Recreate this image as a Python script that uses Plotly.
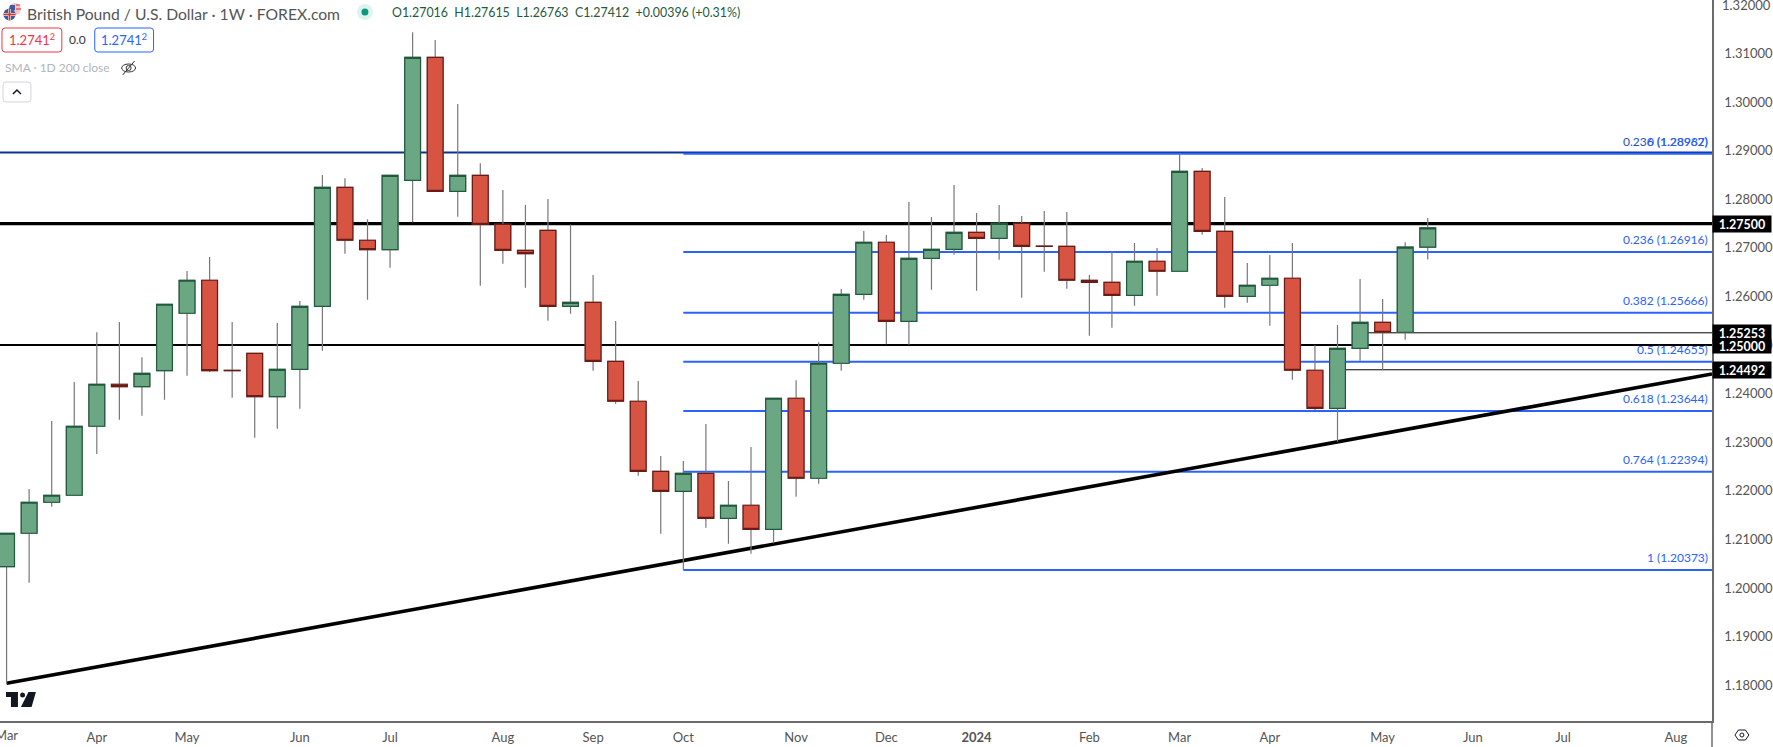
import pandas as pd
import plotly.graph_objects as go

dates = pd.date_range("2023-03-06", periods=64, freq="7D")
opens = [1.20441,1.21128,1.21766,1.2191,1.2333,1.24194,1.24144,1.24474,1.25655,1.26334,1.24482,1.24831,1.23939,1.24502,1.25798,1.28247,
         1.27157,1.26963,1.28391,1.30922,1.28165,1.28494,1.27486,1.26951,1.27362,1.25798,1.25881,1.24667,1.23844,1.22403,1.21992,1.22362,
         1.21436,1.21704,1.2121,1.23906,1.2226,1.24626,1.26045,1.27116,1.2549,1.26786,1.26971,1.27321,1.27198,1.27506,1.27038,1.27033,
         1.26334,1.26292,1.26025,1.26725,1.26519,1.28576,1.27342,1.26004,1.26231,1.26375,1.24482,1.23696,1.24934,1.25469,1.25264,1.27016]
highs = [1.21134,1.22039,1.23439,1.24241,1.25264,1.25475,1.24749,1.2584,1.26525,1.26813,1.25475,1.24831,1.25455,1.25908,1.285,1.28432,
         1.27589,1.28494,1.31436,1.31278,1.29961,1.28741,1.28192,1.27883,1.28006,1.27481,1.26443,1.25496,1.24261,1.22718,1.22615,1.23377,
         1.22204,1.22904,1.23906,1.24276,1.25058,1.26155,1.27348,1.27266,1.27945,1.27636,1.28294,1.27718,1.27883,1.27657,1.27759,1.27739,
         1.26443,1.2693,1.27101,1.26998,1.28947,1.28644,1.28047,1.2669,1.26854,1.27101,1.24996,1.25414,1.2636,1.25949,1.27116,1.27615]
lows = [1.18027,1.20111,1.21675,1.2191,1.22759,1.23465,1.23548,1.23877,1.24371,1.24447,1.23918,1.23095,1.2328,1.23692,1.24885,1.26881,
        1.25934,1.26593,1.27527,1.28165,1.27642,1.26222,1.26675,1.26181,1.25502,1.25646,1.24474,1.23795,1.22313,1.2112,1.20379,1.21243,
        1.20914,1.20708,1.20922,1.21881,1.22148,1.24474,1.25934,1.25017,1.25008,1.2614,1.2686,1.2612,1.26757,1.25976,1.26511,1.2616,
        1.25194,1.25358,1.25811,1.26017,1.26519,1.27272,1.2577,1.25873,1.25399,1.24288,1.23665,1.23013,1.24679,1.24492,1.25111,1.26763]
closes = [1.21128,1.21766,1.2191,1.2333,1.24194,1.24144,1.2442,1.2584,1.26334,1.24474,1.24474,1.23939,1.24502,1.25798,1.28247,1.27157,
          1.26963,1.28494,1.30922,1.28165,1.28494,1.27486,1.26951,1.26881,1.25798,1.25881,1.24667,1.23844,1.22403,1.21992,1.22362,1.21436,
          1.21704,1.2121,1.23906,1.2226,1.24626,1.26045,1.27116,1.2549,1.26786,1.26971,1.27321,1.27198,1.27506,1.27033,1.27033,1.26334,
          1.26292,1.26025,1.26725,1.26519,1.28576,1.27342,1.26004,1.26231,1.26375,1.24482,1.23696,1.24934,1.25469,1.25264,1.27016,1.27412]

fib_ratios = ["0.236", "0.382", "0.5", "0.618", "0.764", "1"]
fib_levels = [1.26916, 1.25666, 1.24655, 1.23644, 1.22394, 1.20373]
fib_zero = 1.28937
old_fib = 1.28962
major_levels = [1.275, 1.25]
minor_levels = [1.25253, 1.24492]
trend_prices = [1.18041, 1.24406]
x_start = "2023-03-03 23:00"
x_end = "2024-08-16 05:00"
y_ticks = [1.18,1.19,1.20,1.21,1.22,1.23,1.24,1.25,1.26,1.27,1.28,1.29,1.30,1.31]
y_top_tick = 1.32
x_first_tick = ("2023-03-06", "Mar")
x_tick_dates = ["2023-04-03","2023-05-01","2023-06-05","2023-07-03","2023-08-07","2023-09-04","2023-10-02",
                "2023-11-06","2023-12-04","2024-01-01","2024-02-05","2024-03-04","2024-04-01","2024-05-06","2024-06-03","2024-07-01","2024-08-05"]
x_tick_text = ["Apr","May","Jun","Jul","Aug","Sep","Oct","Nov","Dec","<b>2024</b>","Feb","Mar","Apr","May","Jun","Jul","Aug"]

W, H, PW, PH = 1773, 747, 1717, 721
FONT = "Lato"
GREEN, RED, GREEN_D, RED_D = "#6ca784", "#d85442", "#1f5a3c", "#6b1a14"
BLUE = "#2962ff"
def px(x): return x / PW
def py(y): return 1 - y / PH

fig = go.Figure()
fig.add_trace(go.Candlestick(x=dates, open=opens, high=highs, low=lows, close=closes, whiskerwidth=0,
    increasing=dict(line=dict(color="#787878", width=1.2), fillcolor=GREEN),
    decreasing=dict(line=dict(color="#787878", width=1.2), fillcolor=RED), showlegend=False, hoverinfo="skip"))
body_hi = [max(a, b) for a, b in zip(opens, closes)]
body_lo = [min(a, b) for a, b in zip(opens, closes)]
fig.add_trace(go.Candlestick(x=dates, open=opens, high=body_hi, low=body_lo, close=closes, whiskerwidth=0,
    increasing=dict(line=dict(color=GREEN_D, width=1.2), fillcolor=GREEN),
    decreasing=dict(line=dict(color=RED_D, width=1.2), fillcolor=RED), showlegend=False, hoverinfo="skip"))

shapes, ann = [], []
def hline(level, x0, x1, color, width):
    shapes.append(dict(type="line", xref="x", yref="y", x0=x0, x1=x1, y0=level, y1=level,
                       line=dict(color=color, width=width), layer="below"))
hline(old_fib, x_start, x_end, "#0c3299", 2)
hline(major_levels[0], x_start, x_end, "#000000", 3.2)
hline(major_levels[1], x_start, x_end, "#000000", 2)
hline(minor_levels[0], dates[60], x_end, "#000000", 1)
hline(minor_levels[1], dates[59], x_end, "#000000", 1)
for lv in [fib_zero] + fib_levels:
    hline(lv, dates[30], x_end, BLUE, 2)
shapes.append(dict(type="line", xref="x", yref="y", x0=dates[0], x1=x_end, y0=trend_prices[0], y1=trend_prices[1],
                   line=dict(color="#000000", width=3.6), layer="below"))

def txt(x, y, t, size=13, color="#555", anchor="left", **kw):
    ann.append(dict(xref="paper", yref="paper", x=px(x), y=py(y), text=t, showarrow=False, xanchor=anchor, yanchor="middle",
                    font=dict(family=FONT, size=size, color=color), **kw))

for r, v in zip(fib_ratios, fib_levels):
    ann.append(dict(xref="paper", yref="y", x=px(1715), y=v, yshift=12.5, text=f"{r} ({v:.5f})", showarrow=False, xanchor="right",
                    yanchor="middle", font=dict(family=FONT, size=12, color=BLUE)))
ann.append(dict(xref="paper", yref="y", x=px(1715), y=old_fib, yshift=11, text=f"0.236 ({old_fib:.5f})", showarrow=False, xanchor="right",
                yanchor="middle", font=dict(family=FONT, size=12, color="#2450c8")))
ann.append(dict(xref="paper", yref="y", x=px(1715), y=old_fib, yshift=11, text=f"0 ({fib_zero:.5f})", showarrow=False, xanchor="right",
                yanchor="middle", font=dict(family=FONT, size=12, color=BLUE)))
for v, h in [(minor_levels[0], 14), (major_levels[0], 14), (major_levels[1], 11), (minor_levels[1], 14)]:
    ann.append(dict(xref="paper", yref="y", x=1.0, y=v, yshift=-1 if h == 11 else 0, text=f"<b>{v:.5f}</b>", showarrow=False, xanchor="left", yanchor="middle",
                    width=56, height=h, bgcolor="#000000", align="center", valign="middle", font=dict(family=FONT, size=12.5, color="#ffffff")))
ann.append(dict(xref="paper", yref="y", x=1.0, xshift=8, y=y_top_tick, text=f"{y_top_tick:.5f}", showarrow=False, xanchor="left",
                yanchor="middle", font=dict(family=FONT, size=13, color="#555")))
ann.append(dict(xref="x", yref="paper", x=x_first_tick[0], y=py(735), text=x_first_tick[1], showarrow=False, xanchor="center",
                yanchor="middle", font=dict(family=FONT, size=13, color="#555")))

txt(25, 14, "British Pound / U.S. Dollar · 1W · FOREX.com", 15.7, "#555")
txt(391, 13, "O1.27016  H1.27615  L1.26763  C1.27412  +0.00396 (+0.31%)", 12.4, "#1f5a3c")
txt(32, 40, "1.2741<sup>2</sup>", 13, "#f23645", "center")
txt(78, 40, "0.0", 12, "#333", "center")
txt(124, 40, "1.2741<sup>2</sup>", 13, "#2962ff", "center")
txt(3, 68, "SMA · 1D 200 close", 12, "#b2b5be")

def rrect(x0, y0, x1, y1, r, color, w=1):
    X0, X1, Y0, Y1 = px(x0), px(x1), py(y0), py(y1)
    rx, ry = r / PW, r / PH
    path = (f"M{X0+rx},{Y0} L{X1-rx},{Y0} Q{X1},{Y0} {X1},{Y0-ry} L{X1},{Y1+ry} Q{X1},{Y1} {X1-rx},{Y1} "
            f"L{X0+rx},{Y1} Q{X0},{Y1} {X0},{Y1+ry} L{X0},{Y0-ry} Q{X0},{Y0} {X0+rx},{Y0} Z")
    shapes.append(dict(type="path", xref="paper", yref="paper", path=path, line=dict(color=color, width=w)))
def poly(pts, fill=None, color=None, w=1, close=True):
    p = "M" + " L".join(f"{px(a)},{py(b)}" for a, b in pts) + (" Z" if close else "")
    shapes.append(dict(type="path", xref="paper", yref="paper", path=p, fillcolor=fill,
                       line=dict(color=color or "rgba(0,0,0,0)", width=w)))
def circ(cx, cy, rx, ry=None, fill=None, color=None, w=1):
    ry = ry or rx
    shapes.append(dict(type="circle", xref="paper", yref="paper", x0=px(cx-rx), x1=px(cx+rx), y0=py(cy+ry), y1=py(cy-ry),
                       fillcolor=fill, line=dict(color=color or "rgba(0,0,0,0)", width=w)))

rrect(2, 28, 62, 52, 3, "#f23645")
rrect(95, 28, 154, 52, 3, "#2962ff")
rrect(3, 82, 31, 102, 3, "#d1d4dc")
poly([(13, 94), (17, 90), (21, 94)], None, "#131722", 1.5, False)
circ(129, 68, 7, 4, None, "#333", 1)
circ(129, 68, 2.5, None, None, "#333", 1)
poly([(123, 75), (135, 61)], None, "#333", 1, False)
circ(15, 9, 6, None, "#f4c4c4")
poly([(10, 5), (15, 5), (15, 10), (9, 10)], "#3c5aa6")
poly([(16, 5), (20, 5)], None, "#d9534f", 1.3, False)
poly([(16, 9), (21, 9)], None, "#d9534f", 1.3, False)
circ(9.5, 14.5, 6, None, "#3c5aa6")
poly([(4, 14.5), (15, 14.5)], None, "#e0e0e0", 3, False)
poly([(9.5, 9), (9.5, 20)], None, "#e0e0e0", 3, False)
poly([(4, 14.5), (15, 14.5)], None, "#d0342c", 1.5, False)
poly([(9.5, 9), (9.5, 20)], None, "#d0342c", 1.5, False)
circ(366, 12, 8, None, "#dff3ee")
circ(366, 12, 3.5, None, "#089981")
poly([(6, 692), (18, 692), (18, 707), (11, 707), (11, 697), (6, 697)], "#131722")
circ(22.7, 695, 2.5, None, "#131722")
poly([(28.5, 692), (36, 692), (31.7, 707), (21, 707)], "#131722")
poly([(1740, 735), (1743.5, 730), (1750.5, 730), (1754, 735), (1750.5, 740), (1743.5, 740)], None, "#131722", 1)
circ(1747, 735, 2, None, None, "#131722", 1)
poly([(PW, PH), (PW, H)], None, "#6b6b6b", 1.5, False)

fig.update_layout(
    width=W, height=H, autosize=False, margin=dict(l=0, r=W-PW, t=0, b=H-PH, pad=0),
    paper_bgcolor="#ffffff", plot_bgcolor="#ffffff", boxmode="overlay", boxgap=0.3, boxgroupgap=0, showlegend=False,
    shapes=shapes, annotations=ann, font=dict(family=FONT),
    xaxis=dict(type="date", range=[x_start, x_end], rangeslider=dict(visible=False), showgrid=False, zeroline=False,
               tickmode="array", tickvals=x_tick_dates, ticktext=x_tick_text, tickfont=dict(family=FONT, size=13, color="#555"),
               showline=True, linecolor="#6b6b6b", linewidth=1.5, ticks="", ticklabelstandoff=4),
    yaxis=dict(side="right", range=[1.17265, 1.32101], showgrid=False, zeroline=False, tickmode="array", tickvals=y_ticks,
               tickformat=".5f", tickfont=dict(family=FONT, size=13, color="#555"), showline=True, linecolor="#6b6b6b",
               linewidth=1.5, ticks="", ticklabelstandoff=8),
)
fig.write_html("out.html", post_script="document.body.style.margin='0';", config=dict(displayModeBar=False))
